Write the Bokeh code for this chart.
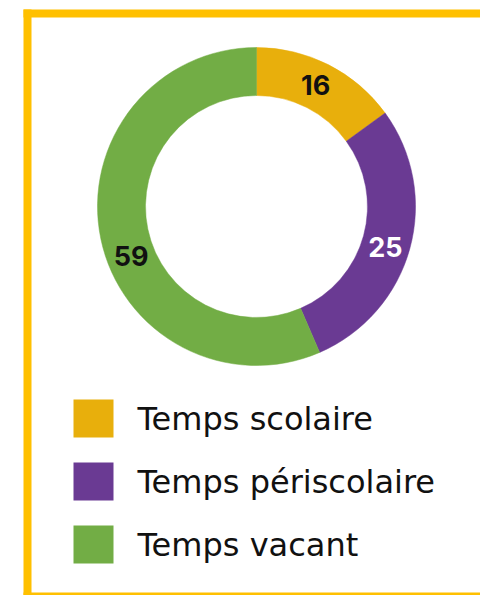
import math
from bokeh.plotting import figure
from bokeh.models import Range1d, ColumnDataSource
from bokeh.core.properties import value
from bokeh.embed import file_html
from bokeh.resources import INLINE

# ---- data ----
categories = ["Temps scolaire", "Temps périscolaire", "Temps vacant"]
shares = [15.0, 28.5, 56.5]          # slice sizes as drawn (percent)
label_texts = ["16", "25", "59"]     # labels printed on the ring
colors = ["#E8AF0C", "#6A3A93", "#72AD45"]
label_colors = ["#111111", "#FFFFFF", "#111111"]

# ---- style ----
W, H = 480, 595
CX, CY = 256, 389
R_OUT, R_IN = 159, 111
label_nudge_deg = [-1, 2, -10]

p = figure(width=W, height=H, output_backend="svg", toolbar_location=None,
           x_range=Range1d(0, W), y_range=Range1d(0, H),
           min_border=0, background_fill_color="white",
           border_fill_color="white", outline_line_color=None)
p.axis.visible = False
p.grid.visible = False

# frame (open on the right, as in the cropped original)
p.segment(x0=[23, 27, 23], y0=[582, 586, -1], x1=[W, 27, W], y1=[582, -5, -1],
          line_color="#FFC000", line_width=8, line_cap="butt")

# donut
total = sum(shares)
cum = 0.0
starts, ends, lx, ly = [], [], [], []
for i, s in enumerate(shares):
    a0 = cum / total
    cum += s
    a1 = cum / total
    starts.append(math.pi / 2 - 2 * math.pi * a0)
    ends.append(math.pi / 2 - 2 * math.pi * a1)
    mid = math.radians(360 * (a0 + a1) / 2 + label_nudge_deg[i])
    rm = (R_OUT + R_IN) / 2
    lx.append(CX + rm * math.sin(mid))
    ly.append(CY + rm * math.cos(mid))

src = ColumnDataSource(dict(start=starts, end=ends, color=colors,
                            lx=lx, ly=ly, txt=label_texts, tc=label_colors))
p.annular_wedge(x=CX, y=CY, inner_radius=R_IN, outer_radius=R_OUT,
                start_angle="start", end_angle="end", direction="clock",
                fill_color="color", line_color="color", line_width=0.5,
                source=src)
p.text(x="lx", y="ly", text="txt", text_color="tc", source=src,
       text_font=value("Inter"), text_font_size="27px", text_font_style="bold",
       text_align="center", text_baseline="middle")

# legend
ys = [177 - 63 * i for i in range(len(categories))]
leg = ColumnDataSource(dict(y=ys, color=colors, name=categories))
p.rect(x=93, y="y", width=40, height=38, fill_color="color", line_color=None,
       source=leg)
p.text(x=137, y="y", text="name", source=leg, text_color="#111111",
       text_font=value("DejaVu Sans"), text_font_size="32px",
       text_align="left", text_baseline="middle")

open("out.html", "w").write(file_html(p, INLINE))
